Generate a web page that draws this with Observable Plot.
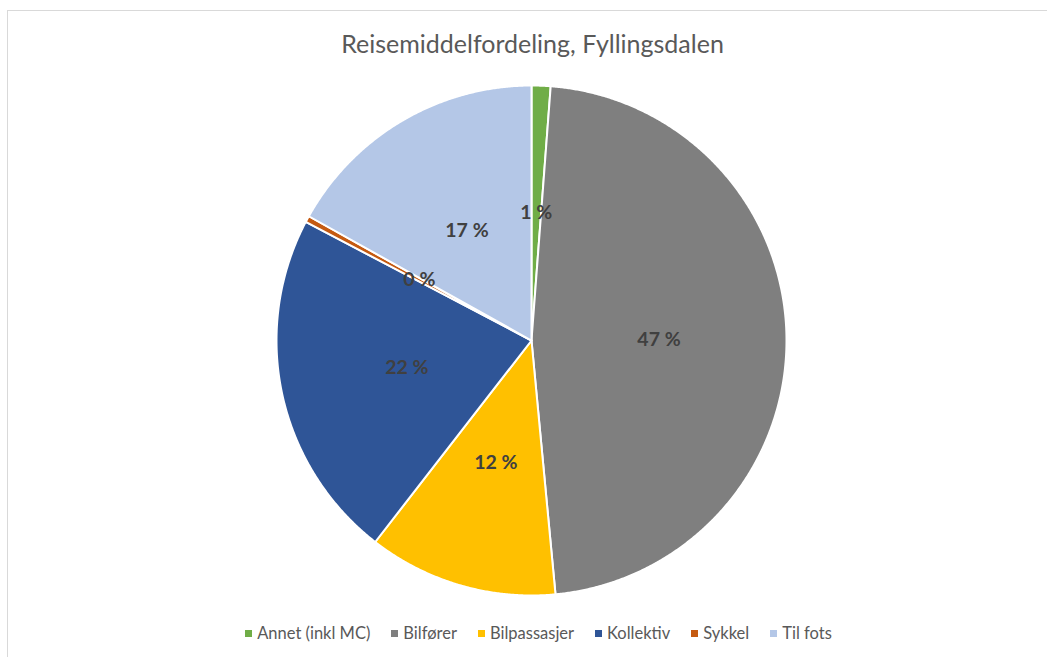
<!DOCTYPE html>
<html>
<head>
<meta charset="utf-8">
<script src="https://cdn.jsdelivr.net/npm/d3@7"></script>
<script src="https://cdn.jsdelivr.net/npm/@observablehq/plot@0.6"></script>
<style>
  html, body { margin: 0; padding: 0; background: #fff; }
  #wrap { position: relative; width: 1047px; height: 657px; overflow: hidden; font-family: Lato, "Open Sans", sans-serif; }
  #frame { position: absolute; left: 7px; top: 10px; width: 1100px; height: 700px; border: 1px solid #d9d9d9; box-sizing: border-box; }
  #title { position: absolute; left: 0; top: 28px; width: 1065px; text-align: center; font-size: 25px; color: #595959; }
  #chart { position: absolute; left: 0; top: 0; }
  #legend { position: absolute; left: 0; top: 623px; width: 1077px; display: flex; justify-content: center; gap: 0 21px; font-size: 16.5px; color: #595959; }
  .item { display: flex; align-items: center; }
  .sw { width: 7px; height: 7px; margin-right: 5px; }
</style>
</head>
<body>
<div id="wrap">
  <div id="frame"></div>
  <div id="chart"></div>
  <div id="title">Reisemiddelfordeling, Fyllingsdalen</div>
  <div id="legend"></div>
</div>
<script>
// Data
const categories = ["Annet (inkl MC)", "Bilfører", "Bilpassasjer", "Kollektiv", "Sykkel", "Til fots"];
const shares = [1.2, 47.3, 12.0, 22.2, 0.4, 16.9];
const colors = ["#70AD47", "#7F7F7F", "#FFC000", "#2F5597", "#C55A11", "#B4C7E7"];

// Slice geometry via d3.pie (angles clockwise from top)
const pie = d3.pie().sort(null).value(d => d.value);
const arcs = pie(categories.map((c, i) => ({key: c, value: shares[i], color: colors[i]})));

const slices = arcs.map(a => {
  const pts = [{x: 0, y: 0}];
  const n = Math.max(2, Math.ceil((a.endAngle - a.startAngle) / 0.005));
  for (let k = 0; k <= n; k++) {
    const t = a.startAngle + (a.endAngle - a.startAngle) * k / n;
    pts.push({x: Math.sin(t), y: Math.cos(t)});
  }
  return {key: a.data.key, color: a.data.color, pts};
});

const labels = arcs.map(a => {
  const m = (a.startAngle + a.endAngle) / 2;
  return {x: 0.5 * Math.sin(m), y: 0.5 * Math.cos(m), text: `${Math.round(a.data.value)} %`};
});

const cx = 531, cy = 340, r = 255;
const chart = Plot.plot({
  width: 1047,
  height: 657,
  margin: 0,
  x: {domain: [-1, 1], range: [cx - r, cx + r], axis: null},
  y: {domain: [-1, 1], range: [cy + r, cy - r], axis: null},
  style: {background: "transparent"},
  marks: [
    ...slices.map(s => Plot.line(s.pts, {x: "x", y: "y", fill: s.color, stroke: "#fff", strokeWidth: 2, curve: "linear-closed", strokeLinejoin: "round"})),
    Plot.text(labels, {x: "x", y: "y", text: "text", fill: "#404040", fontSize: 19.5, fontWeight: "bold", fontFamily: "Lato, 'Open Sans', sans-serif"})
  ]
});
document.getElementById("chart").appendChild(chart);

const leg = document.getElementById("legend");
categories.forEach((c, i) => {
  const it = document.createElement("div");
  it.className = "item";
  it.innerHTML = `<span class="sw" style="background:${colors[i]}"></span><span>${c}</span>`;
  leg.appendChild(it);
});
</script>
</body>
</html>
